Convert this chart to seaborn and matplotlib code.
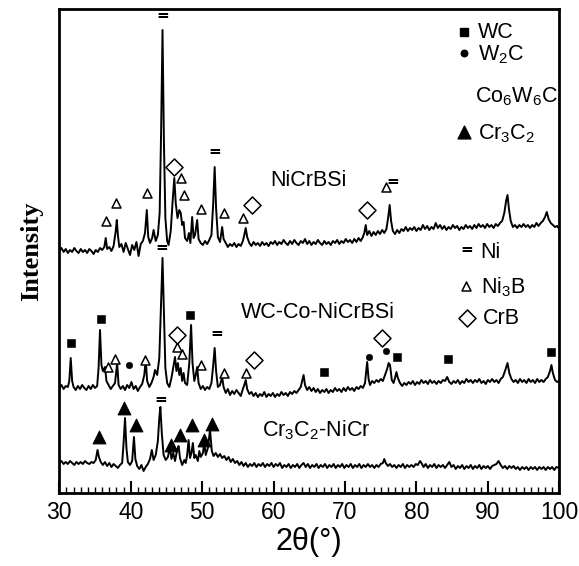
import matplotlib
matplotlib.use("Agg")
import matplotlib.pyplot as plt
from matplotlib import font_manager
import seaborn as sns
import pandas as pd

# XRD traces: (2theta in degrees, intensity in a.u.), offset as stacked in the figure
nicrbsi = [
    (30.0, 242), (30.3, 245), (30.6, 241), (30.9, 244), (31.2, 240), (31.5, 243), (31.8, 241), (32.1, 245),
    (32.4, 242), (32.7, 240), (33.0, 244), (33.3, 241), (33.6, 243), (33.9, 240), (34.2, 244), (34.5, 242),
    (34.8, 239), (35.1, 243), (35.4, 241), (35.7, 245), (36.0, 243), (36.3, 246), (36.5, 255), (36.7, 244),
    (37.0, 246), (37.3, 242), (37.6, 247), (37.9, 262), (38.05, 273), (38.2, 258), (38.4, 246), (38.7, 249),
    (39.0, 241), (39.3, 250), (39.6, 244), (39.9, 238), (40.2, 248), (40.5, 243), (40.8, 251), (41.1, 237),
    (41.4, 249), (41.7, 252), (42.0, 260), (42.25, 283), (42.45, 256), (42.7, 250), (43.0, 255), (43.2, 263),
    (43.5, 252), (43.8, 258), (44.05, 280), (44.25, 360), (44.45, 463), (44.65, 350), (44.85, 275), (45.1, 252),
    (45.3, 248), (45.6, 262), (45.85, 290), (46.1, 315), (46.3, 290), (46.55, 275), (46.8, 283), (47.0, 280),
    (47.2, 268), (47.4, 271), (47.6, 255), (47.9, 252), (48.15, 260), (48.35, 250), (48.6, 276), (48.8, 255),
    (49.0, 258), (49.3, 273), (49.5, 254), (49.8, 250), (50.1, 248), (50.4, 252), (50.7, 249), (51.0, 253),
    (51.3, 258), (51.55, 290), (51.75, 326), (51.95, 285), (52.2, 256), (52.5, 251), (52.8, 266), (53.0, 254),
    (53.3, 250), (53.6, 246), (53.9, 249), (54.2, 247), (54.5, 250), (54.8, 246), (55.1, 249), (55.4, 247),
    (55.7, 252), (55.9, 258), (56.1, 265), (56.3, 256), (56.6, 250), (56.9, 247), (57.2, 251), (57.5, 248),
    (57.8, 250), (58.1, 247), (58.4, 251), (58.7, 248), (59.0, 250), (59.3, 247), (59.6, 251), (59.9, 249),
    (60.2, 252), (60.5, 248), (60.8, 251), (61.1, 249), (61.4, 253), (61.7, 250), (62.0, 248), (62.3, 252),
    (62.6, 249), (62.9, 253), (63.2, 250), (63.5, 248), (63.8, 252), (64.1, 250), (64.4, 254), (64.7, 249),
    (65.0, 252), (65.3, 248), (65.6, 251), (65.9, 249), (66.2, 253), (66.5, 250), (66.8, 248), (67.1, 252),
    (67.4, 249), (67.7, 251), (68.0, 248), (68.3, 252), (68.6, 250), (68.9, 253), (69.2, 249), (69.5, 252),
    (69.8, 250), (70.1, 254), (70.4, 251), (70.7, 253), (71.0, 250), (71.3, 254), (71.6, 251), (71.9, 255),
    (72.2, 252), (72.5, 256), (72.7, 260), (72.9, 268), (73.1, 258), (73.4, 262), (73.7, 257), (74.0, 261),
    (74.3, 258), (74.6, 262), (74.9, 259), (75.2, 263), (75.5, 260), (75.8, 264), (76.05, 276), (76.25, 288),
    (76.45, 272), (76.7, 262), (77.0, 259), (77.3, 263), (77.6, 260), (77.9, 264), (78.2, 262), (78.5, 266),
    (78.8, 262), (79.1, 265), (79.4, 263), (79.7, 266), (80.0, 262), (80.3, 265), (80.6, 263), (80.9, 268),
    (81.2, 264), (81.5, 267), (81.8, 263), (82.1, 266), (82.4, 264), (82.7, 270), (83.0, 265), (83.3, 268),
    (83.6, 264), (83.9, 267), (84.2, 263), (84.5, 266), (84.8, 264), (85.1, 268), (85.4, 265), (85.7, 267),
    (86.0, 263), (86.3, 266), (86.6, 264), (86.9, 268), (87.2, 265), (87.5, 267), (87.8, 264), (88.1, 268),
    (88.4, 265), (88.7, 269), (89.0, 266), (89.3, 268), (89.6, 265), (89.9, 269), (90.2, 266), (90.5, 268),
    (90.8, 265), (91.1, 269), (91.4, 267), (91.7, 270), (92.0, 272), (92.3, 280), (92.55, 292), (92.75, 298),
    (92.95, 284), (93.2, 272), (93.5, 266), (93.8, 268), (94.1, 265), (94.4, 268), (94.7, 266), (95.0, 269),
    (95.3, 266), (95.6, 268), (95.9, 265), (96.2, 268), (96.5, 266), (96.8, 270), (97.1, 267), (97.4, 270),
    (97.7, 272), (98.0, 276), (98.25, 281), (98.5, 274), (98.8, 270), (99.1, 268), (99.4, 266), (99.7, 267),
    (100.0, 264),
]

wc_co_nicrbsi = [
    (30.0, 105), (30.3, 108), (30.6, 104), (30.9, 107), (31.2, 106), (31.4, 112), (31.6, 135), (31.8, 112),
    (32.0, 106), (32.3, 103), (32.6, 107), (32.9, 104), (33.2, 108), (33.5, 105), (33.8, 103), (34.1, 107),
    (34.4, 104), (34.7, 108), (35.0, 105), (35.3, 107), (35.5, 125), (35.7, 163), (35.9, 128), (36.1, 122),
    (36.4, 126), (36.6, 112), (36.9, 108), (37.2, 104), (37.5, 107), (37.8, 110), (38.1, 130), (38.3, 108),
    (38.6, 104), (38.9, 107), (39.2, 103), (39.5, 108), (39.8, 105), (40.1, 111), (40.4, 104), (40.7, 107),
    (41.0, 102), (41.3, 106), (41.6, 109), (41.9, 118), (42.1, 133), (42.3, 112), (42.6, 106), (42.9, 110),
    (43.2, 116), (43.4, 123), (43.7, 118), (44.0, 135), (44.25, 190), (44.45, 235), (44.65, 180), (44.85, 125),
    (45.1, 110), (45.4, 106), (45.7, 115), (46.0, 128), (46.2, 136), (46.4, 122), (46.6, 130), (46.8, 118),
    (47.0, 125), (47.2, 112), (47.4, 120), (47.6, 110), (47.9, 108), (48.2, 130), (48.45, 168), (48.65, 130),
    (48.9, 112), (49.1, 118), (49.3, 126), (49.5, 110), (49.8, 104), (50.1, 107), (50.4, 103), (50.7, 106),
    (51.0, 104), (51.3, 110), (51.55, 128), (51.75, 145), (51.95, 122), (52.2, 106), (52.5, 108), (52.8, 116),
    (53.0, 106), (53.3, 100), (53.6, 104), (53.9, 98), (54.2, 102), (54.5, 99), (54.8, 103), (55.1, 100),
    (55.4, 97), (55.7, 104), (55.9, 108), (56.1, 113), (56.3, 104), (56.6, 99), (56.9, 101), (57.2, 97),
    (57.5, 100), (57.8, 96), (58.1, 99), (58.4, 97), (58.7, 101), (59.0, 96), (59.3, 99), (59.6, 97),
    (59.9, 100), (60.2, 96), (60.5, 99), (60.8, 97), (61.1, 101), (61.4, 98), (61.7, 100), (62.0, 97),
    (62.3, 101), (62.6, 99), (62.9, 102), (63.2, 100), (63.5, 103), (63.8, 106), (64.0, 112), (64.2, 118),
    (64.4, 108), (64.7, 103), (65.0, 106), (65.3, 102), (65.6, 105), (65.9, 101), (66.2, 104), (66.5, 100),
    (66.8, 103), (67.1, 101), (67.4, 104), (67.7, 100), (68.0, 103), (68.3, 101), (68.6, 105), (68.9, 102),
    (69.2, 104), (69.5, 101), (69.8, 105), (70.1, 102), (70.4, 106), (70.7, 103), (71.0, 105), (71.3, 102),
    (71.6, 106), (71.9, 104), (72.2, 107), (72.5, 105), (72.8, 110), (73.1, 131), (73.3, 114), (73.5, 108),
    (73.8, 112), (74.1, 110), (74.4, 113), (74.7, 111), (75.0, 114), (75.3, 112), (75.6, 118), (75.9, 124),
    (76.1, 130), (76.3, 128), (76.55, 113), (76.8, 110), (77.0, 115), (77.2, 121), (77.4, 115), (77.7, 110),
    (78.0, 107), (78.3, 110), (78.6, 108), (78.9, 111), (79.2, 109), (79.5, 112), (79.8, 108), (80.1, 111),
    (80.4, 109), (80.7, 113), (81.0, 110), (81.3, 112), (81.6, 109), (81.9, 113), (82.2, 110), (82.5, 112),
    (82.8, 109), (83.1, 112), (83.4, 110), (83.7, 113), (84.0, 112), (84.3, 116), (84.6, 111), (84.9, 109),
    (85.2, 112), (85.5, 110), (85.8, 113), (86.1, 109), (86.4, 112), (86.7, 110), (87.0, 114), (87.3, 111),
    (87.6, 113), (87.9, 110), (88.2, 113), (88.5, 111), (88.8, 114), (89.1, 110), (89.4, 112), (89.7, 109),
    (90.0, 113), (90.3, 111), (90.6, 114), (90.9, 111), (91.2, 113), (91.5, 110), (91.8, 114), (92.1, 116),
    (92.4, 122), (92.75, 130), (93.0, 120), (93.3, 114), (93.6, 111), (93.9, 113), (94.2, 110), (94.5, 114),
    (94.8, 111), (95.1, 113), (95.4, 110), (95.7, 114), (96.0, 111), (96.3, 113), (96.6, 110), (96.9, 114),
    (97.2, 111), (97.5, 113), (97.8, 111), (98.1, 114), (98.4, 116), (98.7, 122), (98.9, 128), (99.1, 120),
    (99.4, 113), (99.7, 111), (100.0, 112),
]

cr3c2_nicr = [
    (30.0, 30), (30.3, 32), (30.6, 29), (30.9, 31), (31.2, 29), (31.5, 32), (31.8, 30), (32.1, 28),
    (32.4, 31), (32.7, 29), (33.0, 31), (33.3, 29), (33.6, 32), (33.9, 30), (34.2, 29), (34.5, 31),
    (34.8, 30), (35.1, 33), (35.35, 43), (35.55, 36), (35.8, 31), (36.1, 28), (36.4, 31), (36.7, 27),
    (37.0, 30), (37.3, 26), (37.6, 29), (37.9, 27), (38.2, 25), (38.5, 28), (38.8, 30), (39.0, 50),
    (39.2, 75), (39.4, 45), (39.6, 31), (39.9, 28), (40.2, 32), (40.45, 56), (40.65, 34), (40.9, 27),
    (41.2, 24), (41.5, 28), (41.8, 22), (42.1, 26), (42.4, 29), (42.7, 34), (42.95, 43), (43.2, 33),
    (43.5, 38), (43.8, 52), (44.0, 75), (44.15, 86), (44.35, 60), (44.6, 38), (44.9, 33), (45.2, 36),
    (45.5, 46), (45.7, 34), (45.95, 40), (46.2, 32), (46.5, 43), (46.7, 47), (46.9, 35), (47.2, 28),
    (47.5, 33), (47.7, 30), (47.9, 38), (48.1, 53), (48.3, 35), (48.5, 40), (48.7, 50), (48.9, 35),
    (49.1, 38), (49.4, 32), (49.6, 42), (49.8, 36), (50.1, 40), (50.3, 50), (50.5, 38), (50.8, 45),
    (51.1, 63), (51.35, 42), (51.6, 37), (51.9, 40), (52.2, 36), (52.5, 39), (52.8, 35), (53.1, 37),
    (53.4, 33), (53.7, 36), (54.0, 31), (54.3, 34), (54.6, 30), (54.9, 32), (55.2, 28), (55.5, 31),
    (55.8, 27), (56.1, 30), (56.4, 26), (56.7, 29), (57.0, 27), (57.3, 30), (57.6, 26), (57.9, 29),
    (58.2, 27), (58.5, 30), (58.8, 26), (59.1, 29), (59.4, 27), (59.7, 30), (60.0, 26), (60.3, 29),
    (60.6, 27), (60.9, 30), (61.2, 25), (61.5, 28), (61.8, 26), (62.1, 29), (62.4, 25), (62.7, 28),
    (63.0, 26), (63.3, 29), (63.6, 25), (63.9, 28), (64.2, 30), (64.5, 26), (64.8, 29), (65.1, 25),
    (65.4, 28), (65.7, 26), (66.0, 29), (66.3, 25), (66.6, 28), (66.9, 26), (67.2, 29), (67.5, 25),
    (67.8, 28), (68.1, 26), (68.4, 29), (68.7, 25), (69.0, 28), (69.3, 26), (69.6, 29), (69.9, 25),
    (70.2, 28), (70.5, 26), (70.8, 29), (71.1, 25), (71.4, 28), (71.7, 26), (72.0, 29), (72.3, 25),
    (72.6, 28), (72.9, 26), (73.2, 29), (73.5, 26), (73.8, 28), (74.1, 25), (74.4, 28), (74.7, 26),
    (75.0, 29), (75.3, 30), (75.5, 34), (75.7, 30), (76.0, 27), (76.3, 29), (76.6, 26), (76.9, 28),
    (77.2, 25), (77.5, 28), (77.8, 26), (78.1, 29), (78.4, 25), (78.7, 28), (79.0, 26), (79.3, 28),
    (79.6, 26), (79.9, 29), (80.2, 28), (80.5, 32), (80.7, 30), (81.0, 26), (81.3, 29), (81.6, 25),
    (81.9, 28), (82.2, 26), (82.5, 29), (82.8, 25), (83.1, 28), (83.4, 26), (83.7, 28), (84.0, 25),
    (84.3, 28), (84.6, 31), (84.9, 26), (85.2, 28), (85.5, 24), (85.8, 27), (86.1, 25), (86.4, 28),
    (86.7, 24), (87.0, 27), (87.3, 25), (87.6, 28), (87.9, 24), (88.2, 27), (88.5, 25), (88.8, 28),
    (89.1, 24), (89.4, 27), (89.7, 25), (90.0, 27), (90.3, 24), (90.6, 27), (90.9, 28), (91.2, 29),
    (91.5, 32), (91.8, 28), (92.1, 25), (92.4, 27), (92.7, 24), (93.0, 27), (93.3, 25), (93.6, 27),
    (93.9, 24), (94.2, 26), (94.5, 23), (94.8, 26), (95.1, 24), (95.4, 26), (95.7, 23), (96.0, 26),
    (96.3, 24), (96.6, 26), (96.9, 23), (97.2, 26), (97.5, 24), (97.8, 26), (98.1, 23), (98.4, 26),
    (98.7, 24), (99.0, 26), (99.3, 23), (99.6, 26), (100.0, 25),
]

# phase identification marks (2theta, intensity)
wc_marks = [(31.7, 150), (35.85, 174), (48.3, 178), (67.0, 121), (77.3, 136), (84.4, 134), (98.8, 141)]
w2c_marks = [(39.8, 128), (73.4, 136), (75.8, 142)]
cr3c2_marks = [(35.6, 56), (39.0, 85), (40.7, 68), (45.7, 48), (46.9, 58), (48.6, 68), (50.3, 53), (51.4, 69)]
ni_marks = [(44.45, 477), (51.8, 341), (76.7, 311), (44.35, 245), (52.0, 160), (44.2, 93)]
ni3b_marks = [(36.5, 272), (38.0, 290), (42.3, 300), (47.1, 315), (47.4, 298), (49.8, 284), (53.1, 280),
              (55.7, 275), (75.8, 306), (36.8, 126), (37.8, 134), (42.0, 133), (46.5, 146), (47.2, 139),
              (49.8, 128), (53.1, 120), (56.1, 120)]
crb_marks = [(46.1, 326), (57.0, 288), (73.1, 283), (46.5, 158), (57.3, 133), (75.2, 155)]

sample_names = ["NiCrBSi", "WC-Co-NiCrBSi", "Cr$_3$C$_2$-NiCr"]
sample_label_xy = [(59.6, 313), (55.4, 180), (58.4, 63)]

sns.set_style("ticks")
names = {f.name for f in font_manager.fontManager.ttflist}
sans = "Liberation Sans Narrow" if "Liberation Sans Narrow" in names else "Liberation Sans"
plt.rcParams["font.family"] = [sans, "DejaVu Sans"]
plt.rcParams["mathtext.fontset"] = "custom"
plt.rcParams["mathtext.rm"] = sans
plt.rcParams["mathtext.it"] = sans
plt.rcParams["mathtext.default"] = "regular"
plt.rcParams["text.color"] = "black"
plt.rcParams["axes.labelcolor"] = "black"
plt.rcParams["axes.edgecolor"] = "black"
plt.rcParams["xtick.color"] = "black"

fig = plt.figure(figsize=(5.79, 5.66), dpi=100)
ax = fig.add_axes([59.3 / 579, 73 / 566, 500 / 579, 484 / 566])

for trace in [nicrbsi, wc_co_nicrbsi, cr3c2_nicr]:
    df = pd.DataFrame(trace, columns=["two_theta", "intensity"])
    sns.lineplot(data=df, x="two_theta", y="intensity", ax=ax, color="black",
                 linewidth=1.4, estimator=None, sort=False, legend=False)


def put_marks(marks, **kw):
    df = pd.DataFrame(marks, columns=["two_theta", "intensity"])
    sns.scatterplot(data=df, x="two_theta", y="intensity", ax=ax, color="black",
                    legend=False, zorder=5, **kw)


put_marks(wc_marks, marker="s", s=28, edgecolor="black")
put_marks(w2c_marks, marker="o", s=22, edgecolor="black")
put_marks(cr3c2_marks, marker="^", s=85, edgecolor="black")
put_marks(ni3b_marks, marker="^", s=42, facecolor="white", edgecolor="black", linewidth=1.1)
put_marks(crb_marks, marker="D", s=75, facecolor="white", edgecolor="black", linewidth=1.1)
for x, y in ni_marks:
    ax.text(x, y, "=", ha="center", va="center", fontsize=11, fontweight="bold", family="DejaVu Sans")

for name, (x, y) in zip(sample_names, sample_label_xy):
    ax.text(x, y, name, ha="left", va="center", fontsize=15.5)

# phase key, drawn in the upper right
key_fs = 15.5
ax.scatter([86.6], [461], marker="s", s=28, color="black", zorder=5)
ax.text(88.6, 461, "WC", ha="left", va="center", fontsize=key_fs)
ax.scatter([86.6], [440], marker="o", s=22, color="black", zorder=5)
ax.text(88.6, 438, "W$_2$C", ha="left", va="center", fontsize=key_fs)
ax.text(88.2, 396, "Co$_6$W$_6$C", ha="left", va="center", fontsize=key_fs)
ax.scatter([86.6], [361], marker="^", s=85, color="black", zorder=5)
ax.text(88.6, 359, "Cr$_3$C$_2$", ha="left", va="center", fontsize=key_fs)
ax.text(87.1, 243, "=", ha="center", va="center", fontsize=11, fontweight="bold", family="DejaVu Sans")
ax.text(89.0, 241, "Ni", ha="left", va="center", fontsize=key_fs)
ax.scatter([87.0], [207], marker="^", s=42, facecolor="white", edgecolor="black", linewidth=1.1, zorder=5)
ax.text(89.0, 206, "Ni$_3$B", ha="left", va="center", fontsize=key_fs)
ax.scatter([87.1], [175], marker="D", s=75, facecolor="white", edgecolor="black", linewidth=1.1, zorder=5)
ax.text(89.3, 175, "CrB", ha="left", va="center", fontsize=key_fs)

ax.set_xlim(30, 100)
ax.set_ylim(0, 484)
ax.set_xticks(range(30, 101, 10))
ax.set_xticks(range(30, 101, 1), minor=True)
ax.set_yticks([])
ax.tick_params(axis="x", which="major", direction="in", length=9, width=1.5, labelsize=16.5, pad=6,
               colors="black")
ax.tick_params(axis="x", which="minor", direction="in", length=4, width=1.0, colors="black")
for sp in ax.spines.values():
    sp.set_linewidth(2)
    sp.set_visible(True)
    sp.set_color("black")
ax.set_xlabel("2θ(°)", fontsize=22, labelpad=2)
ax.set_ylabel("Intensity", fontsize=19, fontweight="bold", family="Liberation Serif", labelpad=12)

fig.savefig("out.png", dpi=100)
